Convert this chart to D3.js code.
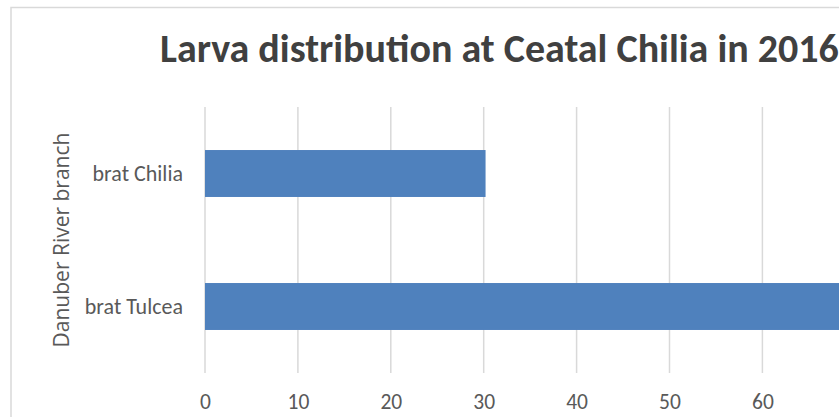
<!DOCTYPE html>
<html>
<head>
<meta charset="utf-8">
<script src="https://cdn.jsdelivr.net/npm/d3@7"></script>
<style>
  html, body { margin: 0; padding: 0; background: #fff; overflow: hidden; }
  svg { display: block; }
</style>
</head>
<body>
<svg id="chart" width="839" height="417"></svg>
<script>
// ---- data ----
const categories = ["brat Chilia", "brat Tulcea"];
const values = [30.2, 72];
const tickValues = [0, 10, 20, 30, 40, 50, 60, 70, 80];
const visibleTickLabels = [0, 10, 20, 30, 40, 50, 60];
const chartTitle = "Larva distribution at Ceatal Chilia in 2016";
const yAxisTitle = "Danuber River branch";

const svg = d3.select("#chart");
const calibri = "Carlito, Calibri, Lato, 'Liberation Sans', sans-serif";

// chart area border (extends beyond the visible viewport)
svg.append("rect")
  .attr("x", 11).attr("y", 7.5)
  .attr("width", 990).attr("height", 460)
  .attr("fill", "#fff")
  .attr("stroke", "#d9d9d9").attr("stroke-width", 1.5);

const plot = { left: 205, right: 948.2, top: 107, bottom: 373 };

const x = d3.scaleLinear().domain([0, 80]).range([plot.left, plot.right]);
const y = d3.scaleBand().domain(categories)
  .range([plot.top, plot.bottom])
  .paddingInner(0.647).paddingOuter(0.3235);

// gridlines
svg.append("g").selectAll("line").data(tickValues).join("line")
  .attr("x1", d => x(d)).attr("x2", d => x(d))
  .attr("y1", plot.top).attr("y2", plot.bottom)
  .attr("stroke", "#d9d9d9").attr("stroke-width", 1.5);

// bars
svg.append("g").selectAll("rect").data(categories).join("rect")
  .attr("x", x(0))
  .attr("y", d => y(d))
  .attr("width", (d, i) => x(values[i]) - x(0))
  .attr("height", y.bandwidth())
  .attr("fill", "#4f81bd");

// x axis tick labels (those inside the visible window)
const xAxis = d3.axisBottom(x).tickValues(visibleTickLabels).tickSize(0).tickPadding(0).tickFormat(d3.format("d"));
const gx = svg.append("g").attr("transform", `translate(0,${plot.bottom + 21})`).call(xAxis);
gx.select(".domain").remove();
gx.selectAll("text")
  .attr("fill", "#595959")
  .attr("font-family", calibri)
  .attr("font-size", 21.5)
  .attr("dy", "0.71em");

// y axis category labels
const yAxis = d3.axisLeft(y).tickSize(0).tickPadding(0);
const gy = svg.append("g").attr("transform", `translate(${plot.left - 22},0)`).call(yAxis);
gy.select(".domain").remove();
gy.selectAll("text")
  .attr("fill", "#595959")
  .attr("font-family", calibri)
  .attr("font-size", 22);

// title
svg.append("text")
  .attr("x", 160).attr("y", 62)
  .attr("fill", "#404040")
  .attr("font-family", calibri)
  .attr("font-weight", "bold")
  .attr("font-size", 40)
  .text(chartTitle);

// y axis title
svg.append("text")
  .attr("transform", `translate(69,${(plot.top + plot.bottom) / 2}) rotate(-90)`)
  .attr("text-anchor", "middle")
  .attr("fill", "#595959")
  .attr("font-family", "'Open Sans', 'DejaVu Sans', sans-serif")
  .attr("font-size", 21)
  .text(yAxisTitle);
</script>
</body>
</html>
